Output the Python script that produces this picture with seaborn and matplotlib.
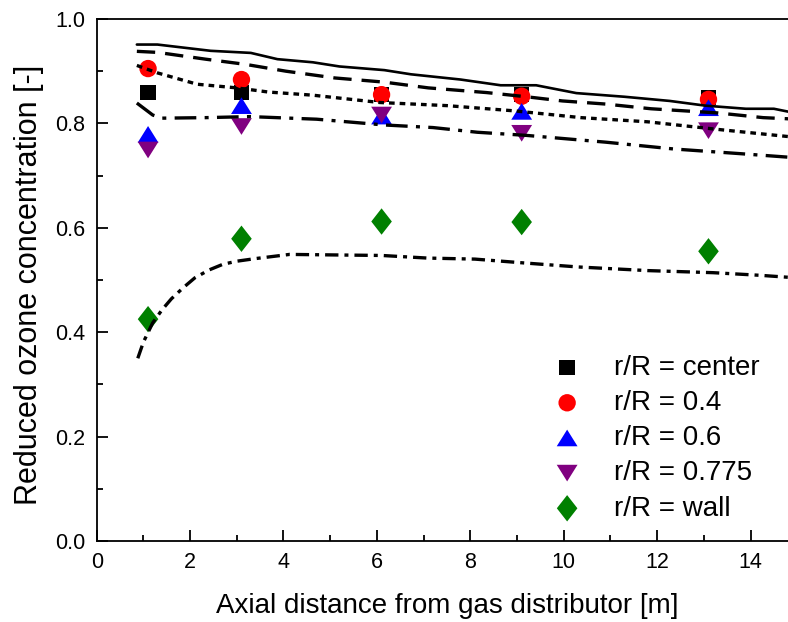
import numpy as np
import pandas as pd
import matplotlib
matplotlib.use("Agg")
import matplotlib.pyplot as plt
import seaborn as sns
from matplotlib.ticker import MultipleLocator

# ---- experimental data ----
x_exp = [1.1, 3.1, 6.1, 9.1, 13.1]
y_center = [0.859, 0.859, 0.856, 0.856, 0.850]
y_04 = [0.905, 0.884, 0.855, 0.852, 0.846]
y_06 = [0.779, 0.834, 0.814, 0.823, 0.830]
y_0775 = [0.749, 0.794, 0.816, 0.781, 0.786]
y_wall = [0.425, 0.579, 0.612, 0.611, 0.555]

# ---- model curves ----
xm_center = [0.86, 1.3, 2.44, 3.3, 3.87, 4.63, 5.2, 6.16, 6.73, 7.79, 8.65, 9.41, 10.27, 11.3, 12.27, 13.03, 13.9, 14.5, 15.0]
ym_center = [0.951, 0.951, 0.939, 0.935, 0.923, 0.917, 0.909, 0.902, 0.894, 0.884, 0.873, 0.873, 0.858, 0.851, 0.843, 0.834, 0.828, 0.828, 0.819]

xm_04 = [0.86, 1.3, 2.33, 3.19, 4.05, 5.1, 6.16, 7.1, 8.35, 9.2, 9.97, 10.9, 11.87, 13.3, 14.27, 15.0]
ym_04 = [0.938, 0.936, 0.923, 0.913, 0.900, 0.887, 0.879, 0.868, 0.859, 0.851, 0.843, 0.837, 0.828, 0.820, 0.811, 0.808]

xm_06 = [0.86, 1.29, 2.15, 3.0, 3.68, 4.63, 6.06, 7.5, 8.94, 10.37, 11.8, 13.24, 15.0]
ym_06 = [0.911, 0.897, 0.875, 0.868, 0.860, 0.854, 0.840, 0.834, 0.824, 0.811, 0.803, 0.789, 0.773]

xm_0775 = [0.86, 1.2, 1.4, 2.33, 3.28, 4.71, 6.15, 7.2, 8.15, 9.2, 10.9, 12.35, 13.78, 15.0]
ym_0775 = [0.839, 0.816, 0.810, 0.811, 0.813, 0.808, 0.797, 0.792, 0.783, 0.777, 0.764, 0.751, 0.742, 0.734]

xm_wall = [0.88, 1.0, 1.2, 1.4, 1.6, 1.85, 2.1, 2.4, 2.7, 3.0, 3.4, 4.13, 5.08, 6.1, 7.08, 8.1, 9.1, 10.3, 11.8, 13.2, 14.2, 15.0]
ym_wall = [0.350, 0.381, 0.418, 0.443, 0.464, 0.485, 0.504, 0.519, 0.530, 0.536, 0.541, 0.549, 0.548, 0.547, 0.542, 0.540, 0.533, 0.525, 0.518, 0.514, 0.509, 0.504]

labels = ["r/R = center", "r/R = 0.4", "r/R = 0.6", "r/R = 0.775", "r/R = wall"]

sns.set_style("ticks")
plt.rcParams['font.family'] = ['Liberation Sans', 'DejaVu Sans']
plt.rcParams['text.color'] = 'black'
plt.rcParams['axes.labelcolor'] = 'black'
plt.rcParams['xtick.color'] = 'black'
plt.rcParams['ytick.color'] = 'black'

fig = plt.figure(figsize=(7.88, 6.22), dpi=100)
ax = fig.add_axes([0.1227, 0.1302, 0.889, 0.8393])

tri_up = [(0, 0.8), (-1, -0.8), (1, -0.8)]
tri_dn = [(0, -0.8), (-1, 0.8), (1, 0.8)]
diam = [(0, 1), (-0.78, 0), (0, -1), (0.78, 0)]

series = [
    (y_center, "s", "black", 11),
    (y_04, "o", "#ff0000", 12.5),
    (y_06, tri_up, "#0000ff", 15),
    (y_0775, tri_dn, "#800080", 15),
    (y_wall, diam, "#008000", 19),
]
for (yv, mk, col, ms), lab in zip(series, labels):
    df = pd.DataFrame({"x": x_exp, "y": yv})
    sns.scatterplot(data=df, x="x", y="y", marker=mk, color=col, s=ms ** 2,
                    edgecolor="none", linewidth=0, label=lab, ax=ax, zorder=3)

lines = [
    (xm_center, ym_center, "-", 1.9),
    (xm_04, ym_04, (0, (5.5, 3.0)), 2.4),
    (xm_06, ym_06, (0, (1.7, 1.5)), 2.4),
    (xm_0775, ym_0775, (0, (6.5, 2.5, 1.2, 2.5)), 2.4),
    (xm_wall, ym_wall, (0, (4, 1.8, 1.2, 1.8)), 2.4),
]
for xs, ys, ls, lw in lines:
    dfl = pd.DataFrame({"x": xs, "y": ys})
    sns.lineplot(data=dfl, x="x", y="y", color="black", linestyle=ls, linewidth=lw,
                 ax=ax, zorder=4, legend=False, sort=False, estimator=None)

ax.set_xlim(0, 15)
ax.set_ylim(0, 1.0)
ax.xaxis.set_major_locator(MultipleLocator(2))
ax.xaxis.set_minor_locator(MultipleLocator(1))
ax.yaxis.set_minor_locator(MultipleLocator(0.1))
ax.set_yticks([0.0, 0.2, 0.4, 0.6, 0.8, 1.0])
ax.set_yticklabels(["0.0", "0.2", "0.4", "0.6", "0.8", "1.0"])
ax.tick_params(which="major", direction="in", length=8, width=1.3, labelsize=15.5, pad=8)
ax.tick_params(which="minor", direction="in", length=4, width=1.3)
ax.tick_params(axis="x", pad=8)
for sp in ax.spines.values():
    sp.set_linewidth(1.3)
    sp.set_color("black")

ax.set_xlabel("Axial distance from gas distributor [m]", fontsize=20, labelpad=14)
ax.set_ylabel("Reduced ozone concentration [-]", fontsize=22, labelpad=10)
ax.yaxis.set_label_coords(-0.075, 0.49)

leg = ax.legend(loc="lower left", bbox_to_anchor=(0.62, 0.0), frameon=False,
                fontsize=20, handletextpad=1.1, labelspacing=0.33, borderpad=0.2,
                handlelength=1.2)

fig.savefig("out.png", dpi=100)
